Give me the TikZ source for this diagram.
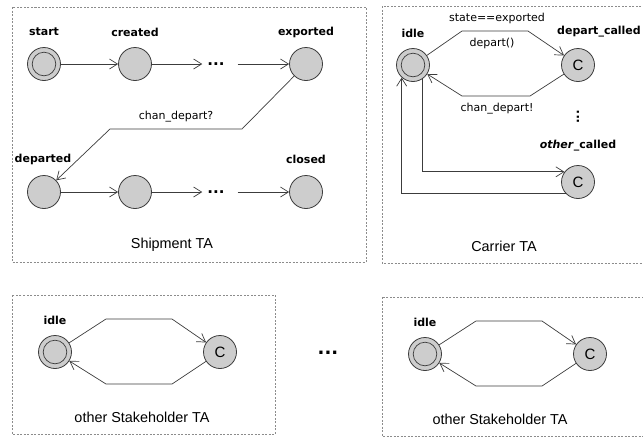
\documentclass[tikz,border=0pt]{standalone}
\usepackage{fontspec}
\setmainfont{DejaVu Sans}
\newfontfamily\capfont{Liberation Sans}
\usetikzlibrary{arrows.meta, positioning, calc}
\definecolor{taInk}{HTML}{3C3C3C}
\definecolor{taFill}{HTML}{CDCDCD}
\definecolor{taBox}{HTML}{8C8C8C}

\tikzset{
  loc/.style={circle, draw=taInk, fill=taFill, line width=0.8pt, minimum size=33pt, inner sep=0pt},
  initloc/.style={loc, path picture={\draw[taInk, line width=0.7pt] (path picture bounding box.center) circle (#1);}},
  initloc/.default=11.8pt,
  comm/.style={loc, font=\capfont\fontsize{15}{17}\selectfont},
  locname/.style={font=\bfseries\fontsize{11}{13}\selectfont},
  guard/.style={font=\fontsize{11}{13}\selectfont},
  ta/.style={font=\capfont\fontsize{14.4}{17}\selectfont},
  tabox/.style={draw=taBox, line width=0.6pt, dash pattern=on 2pt off 1.5pt},
  edge/.style={draw=taInk, line width=0.7pt, -{Straight Barb[length=8pt, width=10pt]}},
  more/.style={font=\bfseries\fontsize{15}{15}\selectfont, inner sep=0pt}
}

\begin{document}
\begin{tikzpicture}[x=1pt, y=-1pt]
  \useasboundingbox (0,0) rectangle (643,437);
  \clip (0,0) rectangle (643,437);

  % Shipment TA
  \draw[tabox] (12,7) rectangle (366,262);
  \node[initloc] (start) at (44,64) {};
  \node[loc] (created) at (135,64) {};
  \node[more] (dotsA) at (216,64) {...};
  \node[loc] (exported) at (306,64) {};
  \node[loc] (departed) at (44,192) {};
  \node[loc] (passed) at (135,192) {};
  \node[more] (dotsB) at (216,192) {...};
  \node[loc] (closed) at (306,192) {};
  \node[locname] (startName) at (44,32) {start};
  \node[locname] (createdName) at (135,32) {created};
  \node[locname] (exportedName) at (306,32) {exported};
  \node[locname] (departedName) at (43,159) {departed};
  \node[locname] (closedName) at (306,159) {closed};

  \draw[edge] (start) -- (created);
  \draw[edge, shorten >=5pt] (created) -- (dotsA);
  \draw[edge, shorten <=13pt] (dotsA) -- (exported);
  \draw[edge] (departed) -- (passed);
  \draw[edge, shorten >=5pt] (passed) -- (dotsB);
  \draw[edge, shorten <=13pt] (dotsB) -- (closed);

  \coordinate (bendA) at (242,129);
  \coordinate (bendB) at (110,129);
  \draw[edge] (exported) -- (bendA) -- (bendB) -- (departed);
  \node[guard] (syncRecv) at (176,117) {chan\_depart?};
  \node[ta] (shipmentTA) at (172,245) {Shipment TA};

  % Carrier TA
  \draw[tabox] (648,6) -- (382,6) -- (382,263) -- (648,263);
  \node[initloc] (idle) at (413,65) {};
  \node[comm] (departC) at (578,65) {C};
  \node[comm] (otherC) at (578,182) {C};
  \node[locname] (idleName) at (413,33) {idle};
  \node[locname] (departName) at (599,32) {depart\_called};
  \node[locname] (otherName) at (578,146) {\textit{other}\_called};
  \node[more, rotate=90, font=\bfseries\fontsize{12}{12}\selectfont] (dotsC) at (578,117) {...};

  \coordinate (upA) at (462,31);
  \coordinate (upB) at (528,31);
  \draw[edge] (idle) -- (upA) -- (upB) -- (departC);
  \coordinate (lowB) at (530,96);
  \coordinate (lowA) at (462,96);
  \draw[edge] (departC) -- (lowB) -- (lowA) -- (idle);
  \draw[edge] (idle.303) |- (otherC.143);
  \draw[edge] (otherC.223) -| (idle.228);
  \node[guard] (guardExp) at (497,18) {state==exported};
  \node[guard] (callDepart) at (492,43) {depart()};
  \node[guard] (syncSend) at (497,109) {chan\_depart!};
  \node[ta] (carrierTA) at (504,246) {Carrier TA};

  % other stakeholders
  \foreach \dx/\dy/\capx [count=\i] in {0/0/142, 370/2/500} {
    \draw[tabox] (12+\dx,295+\dy) rectangle (275+\dx,434+\dy);
    \node[initloc] (idleS\i) at (55+\dx,352+\dy) {};
    \node[comm] (callS\i) at (220+\dx,352+\dy) {C};
    \node[locname] (idleNameS\i) at (55+\dx,320+\dy) {idle};
    \coordinate (upSA\i) at (106+\dx,319+\dy);
    \coordinate (upSB\i) at (172+\dx,319+\dy);
    \coordinate (lowSB\i) at (172+\dx,384+\dy);
    \coordinate (lowSA\i) at (106+\dx,384+\dy);
    \draw[edge] (idleS\i) -- (upSA\i) -- (upSB\i) -- (callS\i);
    \draw[edge] (callS\i) -- (lowSB\i) -- (lowSA\i) -- (idleS\i);
    \node[ta] (otherTA\i) at (\capx,417+\dy) {other Stakeholder TA};
  }
  \node[more, font=\bfseries\fontsize{18}{18}\selectfont] (dotsS) at (328,353) {...};
\end{tikzpicture}
\end{document}
